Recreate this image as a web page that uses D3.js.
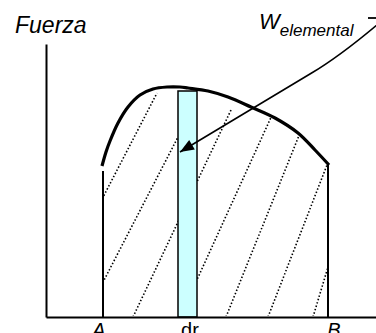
<!DOCTYPE html>
<html>
<head>
<meta charset="utf-8">
<script src="https://cdn.jsdelivr.net/npm/d3@7/dist/d3.min.js"></script>
<style>
  html, body { margin: 0; padding: 0; background: #fff; overflow: hidden; }
  svg { display: block; }
  text { font-family: Arial, "Liberation Sans", sans-serif; fill: #000; }
</style>
</head>
<body>
<svg id="chart" width="376" height="333"></svg>
<script>
// Force F(r) along the path from A to B (r, F in plot units)
const curveR = [56, 60, 64, 72, 82, 94, 107, 121, 134, 142, 162, 182, 205, 229, 252, 269, 283];
const curveF = [151, 165, 176, 194, 210, 222, 228, 230, 230, 229, 226, 220, 210, 199, 184, 167, 152];

// Limits of the integral
const limitR = [57, 282];          // A, B
const limitF = [146, 152];         // height of each limit line

// Elemental strip of width dr
const stripR = [132, 151];
const stripTop = 226;

// Hatching: each dotted line runs from (bottom r, 0) to (top r, top F)
const hatchBottomR = [-5, 39, 87, 134, 180, 222, 267];
const hatchTopR    = [111, 132, 185, 227, 254, 281, 282];
const hatchTopF    = [224, 180, 207, 204, 184, 152, 50];

// Axis labels
const axisTitle = "Fuerza";
const bottomLabels = ["A", "dr", "B"];
const bottomLabelR = [53, 144, 288];
const bottomLabelItalic = [true, false, true];

// Callout to the strip: arrow tip, bend, and exit point
const arrowR = [134, 294, 332];
const arrowF = [165, 261, 293];

const svg = d3.select("#chart");
const x = d3.scaleLinear().domain([0, 330]).range([46, 376]);
const y = d3.scaleLinear().domain([0, 273]).range([317, 44]);

// Hatched region clipped between the limits and under the curve
const areaGen = d3.area()
  .x((d, i) => x(curveR[i]))
  .y0(y(0))
  .y1((d, i) => y(curveF[i]))
  .curve(d3.curveCatmullRom);

const defs = svg.append("defs");
defs.append("clipPath").attr("id", "under")
  .append("path")
  .attr("d", areaGen(curveR) + "")
  .attr("transform", "translate(0,-1)");
defs.append("clipPath").attr("id", "between")
  .append("rect")
  .attr("x", x(limitR[0]) - 3).attr("y", 0)
  .attr("width", x(limitR[1]) - x(limitR[0]) + 3).attr("height", 333);

const hatch = svg.append("g").attr("clip-path", "url(#between)")
  .append("g").attr("clip-path", "url(#under)");
hatch.selectAll("line").data(hatchBottomR).join("line")
  .attr("x1", (d) => x(d)).attr("y1", y(0))
  .attr("x2", (d, i) => x(hatchTopR[i])).attr("y2", (d, i) => y(hatchTopF[i]))
  .attr("stroke", "#000").attr("stroke-width", 1.6)
  .attr("stroke-dasharray", "1.5,2");

// Elemental strip
svg.append("rect")
  .attr("x", x(stripR[0])).attr("y", y(stripTop))
  .attr("width", x(stripR[1]) - x(stripR[0]))
  .attr("height", y(0) - y(stripTop))
  .attr("fill", "#ccffff").attr("stroke", "#000").attr("stroke-width", 1.5);

// Limit lines A and B
svg.selectAll("line.limit").data(limitR).join("line").attr("class", "limit")
  .attr("x1", (d) => x(d)).attr("x2", (d) => x(d))
  .attr("y1", y(0)).attr("y2", (d, i) => y(limitF[i]))
  .attr("stroke", "#000").attr("stroke-width", 2);

// Force curve
svg.append("path")
  .attr("d", d3.line().x((d, i) => x(curveR[i])).y((d, i) => y(curveF[i]))
    .curve(d3.curveCatmullRom)(curveR))
  .attr("fill", "none").attr("stroke", "#000").attr("stroke-width", 3.2);

// Axes with no ticks
svg.append("g").attr("transform", `translate(0,${y(0)})`)
  .call(d3.axisBottom(x).tickValues([]).tickSizeOuter(0));
svg.append("g").attr("transform", `translate(${x(0)},0)`)
  .call(d3.axisLeft(y).tickValues([]).tickSizeOuter(0));
svg.selectAll(".domain").attr("stroke", "#000").attr("stroke-width", 2);

// Callout arrow
const tip = [x(arrowR[0]), y(arrowF[0])];
const bend = [x(arrowR[1]), y(arrowF[1])];
const exit = [x(arrowR[2]), y(arrowF[2])];
const path = d3.path();
path.moveTo(tip[0], tip[1]);
const straightEnd = [tip[0] + (bend[0] - tip[0]) * 0.82, tip[1] + (bend[1] - tip[1]) * 0.82];
path.lineTo(straightEnd[0], straightEnd[1]);
path.quadraticCurveTo(bend[0], bend[1], exit[0], exit[1]);
svg.append("path").attr("d", path.toString())
  .attr("fill", "none").attr("stroke", "#000").attr("stroke-width", 1.6);
const ang = Math.atan2(bend[1] - tip[1], bend[0] - tip[0]);
const hl = 14, hw = 5.5;
const bx = tip[0] + hl * Math.cos(ang), by = tip[1] + hl * Math.sin(ang);
svg.append("polygon")
  .attr("points", [
    tip,
    [bx + hw * Math.sin(ang), by - hw * Math.cos(ang)],
    [bx - hw * Math.sin(ang), by + hw * Math.cos(ang)]
  ].map((p) => p.join(",")).join(" "))
  .attr("fill", "#000");

// Short leader stub next to the label
svg.append("line")
  .attr("x1", 368).attr("x2", 377).attr("y1", 18).attr("y2", 18)
  .attr("stroke", "#000").attr("stroke-width", 1.8);

// Titles
svg.append("text").attr("x", 15).attr("y", 33)
  .attr("font-size", 23).attr("font-style", "italic").text(axisTitle);

const wl = svg.append("text").attr("x", 259).attr("y", 29).attr("font-style", "italic");
wl.append("tspan").attr("font-size", 22).text("W");
wl.append("tspan").attr("font-size", 17).attr("dy", 7).text("elemental");

// Labels under the axis (partly below the lower edge)
svg.selectAll("text.bl").data(bottomLabels).join("text").attr("class", "bl")
  .attr("x", (d, i) => x(bottomLabelR[i])).attr("y", 337)
  .attr("text-anchor", "middle").attr("font-size", 20)
  .attr("font-style", (d, i) => bottomLabelItalic[i] ? "italic" : "normal")
  .text((d) => d);
</script>
</body>
</html>
